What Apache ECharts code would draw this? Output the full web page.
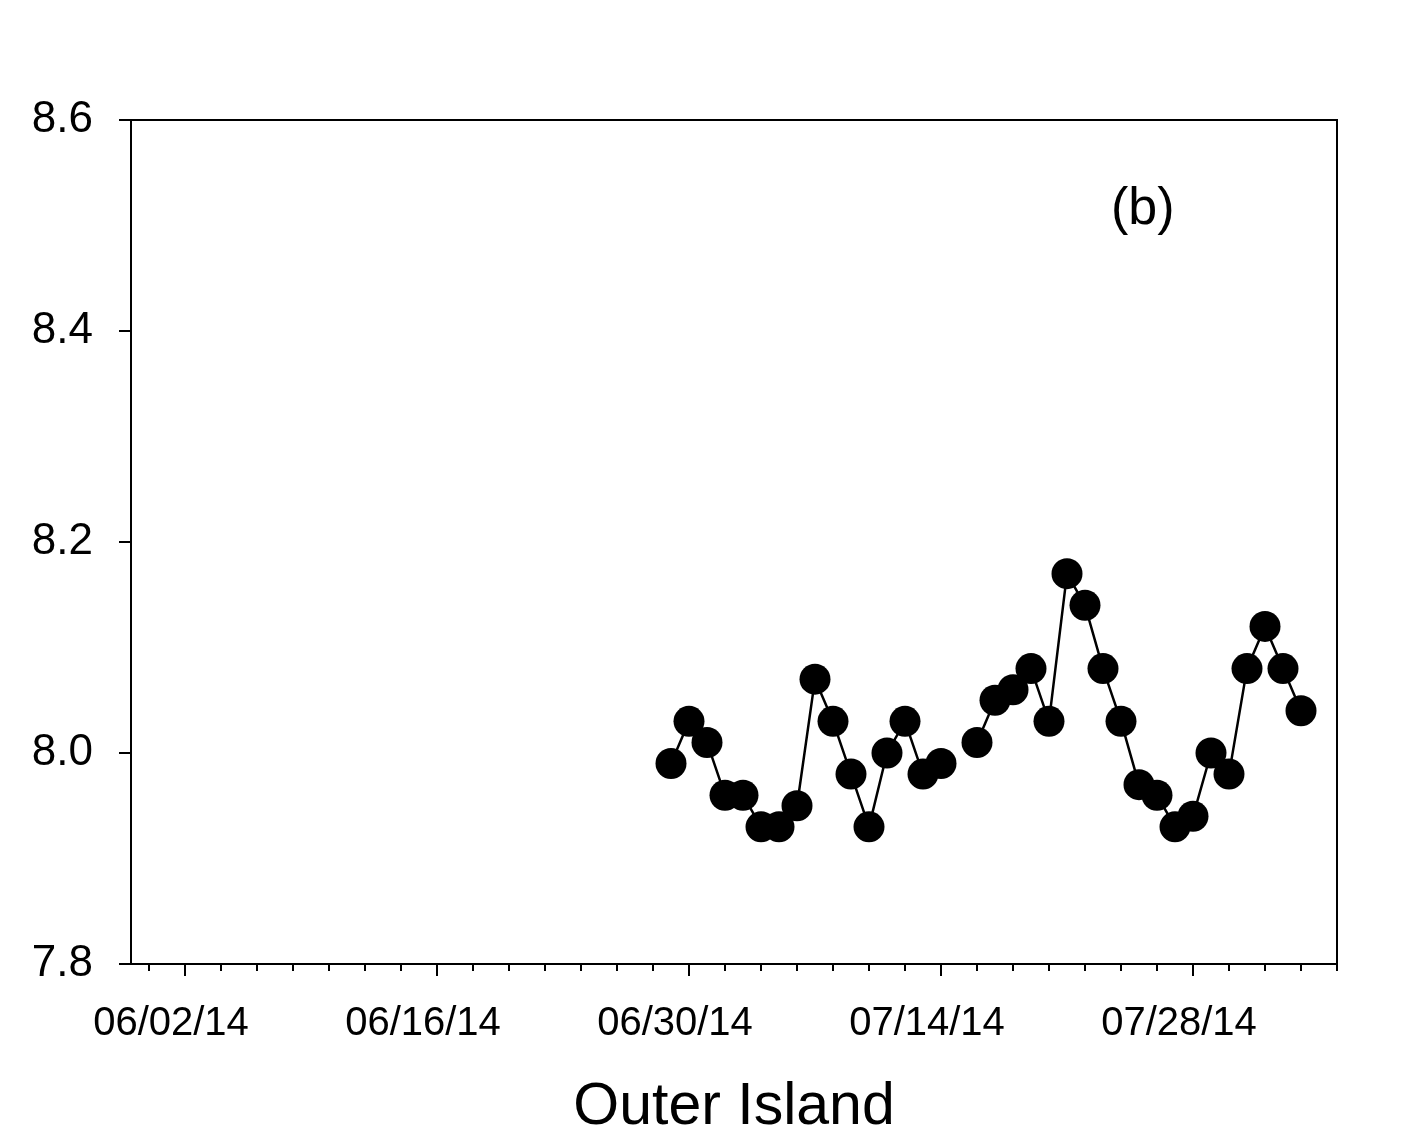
<!DOCTYPE html>
<html>
<head>
<meta charset="utf-8">
<script src="https://cdn.jsdelivr.net/npm/echarts@6/dist/echarts.min.js"></script>
<style>
html,body{margin:0;padding:0;background:#fff;}
#chart{width:1404px;height:1144px;}
</style>
</head>
<body>
<div id="chart"></div>
<script>
// Axis range (first and last day of the x axis)
const axisStart = '2014-05-30';
const axisEnd = '2014-08-05';
// Dates with a tick label (major ticks)
const tickLabels = ['06/02/14', '06/16/14', '06/30/14', '07/14/14', '07/28/14'];
// Observation dates and values (null = missing day, breaks the line)
const dates = ['06/29/14','06/30/14','07/01/14','07/02/14','07/03/14','07/04/14','07/05/14','07/06/14','07/07/14','07/08/14','07/09/14','07/10/14','07/11/14','07/12/14','07/13/14','07/14/14','07/15/14','07/16/14','07/17/14','07/18/14','07/19/14','07/20/14','07/21/14','07/22/14','07/23/14','07/24/14','07/25/14','07/26/14','07/27/14','07/28/14','07/29/14','07/30/14','07/31/14','08/01/14','08/02/14','08/03/14'];
const values = [7.99,8.03,8.01,7.96,7.96,7.93,7.93,7.95,8.07,8.03,7.98,7.93,8.00,8.03,7.98,7.99,null,8.01,8.05,8.06,8.08,8.03,8.17,8.14,8.08,8.03,7.97,7.96,7.93,7.94,8.00,7.98,8.08,8.12,8.08,8.04];
const yTicks = [7.8, 8.0, 8.2, 8.4, 8.6];
const panelLabel = '(b)';
const xTitle = 'Outer Island';

function fmt(d){
  const mm = String(d.getUTCMonth()+1).padStart(2,'0');
  const dd = String(d.getUTCDate()).padStart(2,'0');
  const yy = String(d.getUTCFullYear()).slice(2);
  return mm + '/' + dd + '/' + yy;
}
const days = [];
for (let t = Date.parse(axisStart+'T00:00:00Z'); t <= Date.parse(axisEnd+'T00:00:00Z'); t += 86400000) {
  days.push(fmt(new Date(t)));
}
const firstLabelIdx = days.indexOf(tickLabels[0]);
const isMajor = (i, v) => tickLabels.indexOf(v) >= 0;
const isMinor = (i) => ((i - firstLabelIdx) % 2 + 2) % 2 === 0;

const FONT = '"Liberation Sans", Arial, sans-serif';
const chart = echarts.init(document.getElementById('chart'));
chart.setOption({
  animation: false,
  backgroundColor: '#fff',
  grid: {left: 131, right: 67, top: 120, bottom: 180, show: true, borderColor: '#000', borderWidth: 2, backgroundColor: 'transparent'},
  xAxis: [
    {
      type: 'category', position: 'bottom', data: days, boundaryGap: false,
      axisLine: {show: true, lineStyle: {color: '#000', width: 2}},
      axisTick: {show: true, interval: isMajor, length: 12, lineStyle: {color: '#000', width: 2}},
      axisLabel: {show: true, interval: isMajor, color: '#000', fontSize: 40, fontFamily: FONT, margin: 40, padding: [0, 28, 0, 0]},
      splitLine: {show: false}
    },
    {
      type: 'category', position: 'bottom', data: days, boundaryGap: false,
      axisLine: {show: false},
      axisTick: {show: true, interval: isMinor, length: 7, lineStyle: {color: '#000', width: 2}},
      axisLabel: {show: false},
      splitLine: {show: false}
    }
  ],
  yAxis: {
    type: 'value', min: yTicks[0], max: yTicks[yTicks.length-1], interval: 0.2,
    axisLine: {show: true, lineStyle: {color: '#000', width: 2}},
    axisTick: {show: true, length: 12, lineStyle: {color: '#000', width: 2}},
    axisLabel: {color: '#000', fontSize: 44, fontFamily: FONT, margin: 38, formatter: v => v.toFixed(1)},
    splitLine: {show: false}
  },
  series: [{
    type: 'line',
    xAxisIndex: 0,
    data: dates.map((d, i) => [d, values[i]]),
    connectNulls: false,
    showAllSymbol: true,
    symbol: 'circle', symbolSize: 31,
    itemStyle: {color: '#000', borderWidth: 0},
    lineStyle: {color: '#000', width: 2.5}
  }],
  graphic: [
    {type: 'text', left: 1111, top: 184, style: {text: panelLabel, fill: '#000', font: '52px ' + FONT}},
    {type: 'text', x: 734, y: 1108, style: {text: xTitle, fill: '#000', font: '59px ' + FONT, textAlign: 'center', textVerticalAlign: 'middle'}}
  ]
});
</script>
</body>
</html>
